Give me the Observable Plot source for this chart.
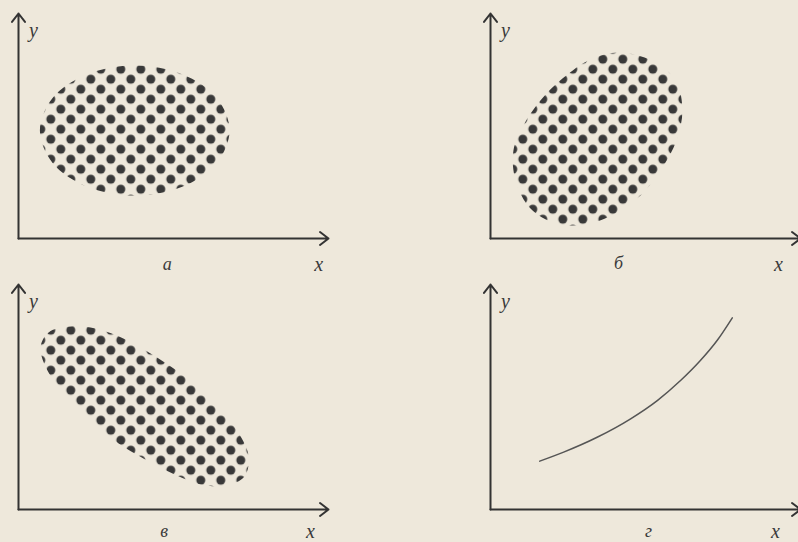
<!DOCTYPE html>
<html><head><meta charset="utf-8">
<script src="https://cdn.jsdelivr.net/npm/d3@7"></script>
<script src="https://cdn.jsdelivr.net/npm/@observablehq/plot@0.6"></script>
<style>html,body{margin:0;padding:0;background:#eee8db;overflow:hidden}</style>
</head><body><div id="chart"></div>
<script>
// Panels (а, б, в, г) in a 2x2 grid
const panels = ["а", "б", "в", "г"];
const panelCol = ["left", "right", "left", "right"];
const panelRow = ["top", "top", "bottom", "bottom"];

// Outline of dotted cloud, panel а (horizontal ellipse)
const shapeA_x = [68.1, 64.0, 52.8, 37.5, 22.2, 11.0, 6.9, 11.0, 22.2, 37.5, 52.8, 64.0];
const shapeA_y = [48.0, 62.5, 73.0, 76.9, 73.0, 62.5, 48.0, 33.6, 23.0, 19.1, 23.0, 33.6];
// panel б (positive tilt)
const shapeB_x = [41.9, 53.9, 60.0, 61.9, 60.0, 54.8, 48.4, 40.3, 30.6, 21.0, 12.9, 8.1, 7.4, 10.6, 16.1, 23.2, 32.3];
const shapeB_y = [82.7, 77.8, 69.3, 56.9, 43.6, 30.2, 19.1, 11.1, 6.2, 6.7, 13.3, 25.8, 39.1, 50.2, 61.3, 71.1, 79.6];
// panel в (negative tilt)
const shapeV_x = [7.1, 9.7, 16.8, 24.8, 34.5, 44.2, 53.9, 62.6, 70.0, 74.2, 72.9, 66.8, 58.7, 49.7, 40.3, 32.3, 24.2, 16.1, 9.7];
const shapeV_y = [72.0, 78.7, 81.3, 80.4, 75.6, 68.0, 58.7, 47.6, 36.0, 24.0, 14.7, 10.7, 11.1, 16.0, 22.7, 29.3, 38.7, 49.8, 60.9];
// panel г (curve)
const curveG_x = [15.9, 23.6, 34.4, 45.2, 53.8, 61.3, 67.7, 73.1, 78.0];
const curveG_y = [21.5, 25.5, 32.1, 40.3, 48.4, 57.3, 66.2, 75.1, 85.2];

// Axes (origin and ends)
const axisOrigin = [0, 0];
const xAxisEnd = [100, 0];
const yAxisEnd = [0, 100];

// Labels
const yLabelText = "y";
const yLabelPos = [4.8, 92.4];
const xLabelText = "x";
const xLabelX = [96.8, 92.9, 94.2, 91.9];
const xLabelY = [-11.4, -11.8, -9.8, -9.8];
const panelLabelX = [48, 41.3, 47, 51];
const panelLabelY = [-11.4, -11.1, -9.8, -9.8];

const colOf = p => panelCol[panels.indexOf(p)];
const rowOf = p => panelRow[panels.indexOf(p)];

const shapes = [
  {panel: "а", xs: shapeA_x, ys: shapeA_y},
  {panel: "б", xs: shapeB_x, ys: shapeB_y},
  {panel: "в", xs: shapeV_x, ys: shapeV_y}
];
const outline = shapes.flatMap(s => s.xs.map((x, i) => ({panel: s.panel, x, y: s.ys[i]})));
const curve = curveG_x.map((x, i) => ({panel: "г", x, y: curveG_y[i]}));
const axes = panels.flatMap(p => [
  {panel: p, x1: axisOrigin[0], y1: axisOrigin[1], x2: xAxisEnd[0], y2: xAxisEnd[1]},
  {panel: p, x1: axisOrigin[0], y1: axisOrigin[1], x2: yAxisEnd[0], y2: yAxisEnd[1]}
]);
const labels = panels.flatMap((p, i) => [
  {panel: p, x: yLabelPos[0], y: yLabelPos[1], text: yLabelText, size: 20},
  {panel: p, x: xLabelX[i], y: xLabelY[i], text: xLabelText, size: 20},
  {panel: p, x: panelLabelX[i], y: panelLabelY[i], text: p, size: 18}
]);

const ink = "#333";
const fxo = d => colOf(d.panel), fyo = d => rowOf(d.panel);

const chart = Plot.plot({
  width: 798,
  height: 542,
  marginLeft: 18,
  marginRight: -2,
  marginTop: 13,
  marginBottom: 33,
  style: {background: "#eee8db"},
  fx: {domain: ["left", "right"], paddingInner: 162 / 472, paddingOuter: 0, axis: null},
  fy: {domain: ["top", "bottom"], paddingInner: 46 / 271, paddingOuter: 0, axis: null},
  x: {domain: [0, 100], axis: null},
  y: {domain: [0, 100], axis: null},
  marks: [
    Plot.line(outline, {x: "x", y: "y", z: "panel", fx: fxo, fy: fyo, curve: "catmull-rom-closed", fill: "url(#dots)", stroke: "none"}),
    Plot.line(curve, {x: "x", y: "y", fx: fxo, fy: fyo, curve: "monotone-x", stroke: "#555", strokeWidth: 1.5}),
    Plot.arrow(axes, {x1: "x1", y1: "y1", x2: "x2", y2: "y2", fx: fxo, fy: fyo, stroke: ink, strokeWidth: 2, headAngle: 75, headLength: 8}),
    Plot.text(labels, {x: "x", y: "y", text: "text", fx: fxo, fy: fyo, fontSize: d => d.size, fontStyle: "italic", fontFamily: "Liberation Serif, serif", fill: "#3a3a3a", textAnchor: "middle", lineAnchor: "middle"})
  ]
});

const svg = chart.tagName.toLowerCase() === "svg" ? chart : chart.querySelector("svg");
d3.select(svg).insert("defs", ":first-child").html(
  '<pattern id="dots" patternUnits="userSpaceOnUse" width="20" height="20" x="-4.7" y="3.7">' +
  '<circle cx="5" cy="5" r="4.5" fill="#393939"/><circle cx="15" cy="15" r="4.5" fill="#393939"/></pattern>'
);
document.getElementById("chart").appendChild(chart);
</script>
</body></html>
